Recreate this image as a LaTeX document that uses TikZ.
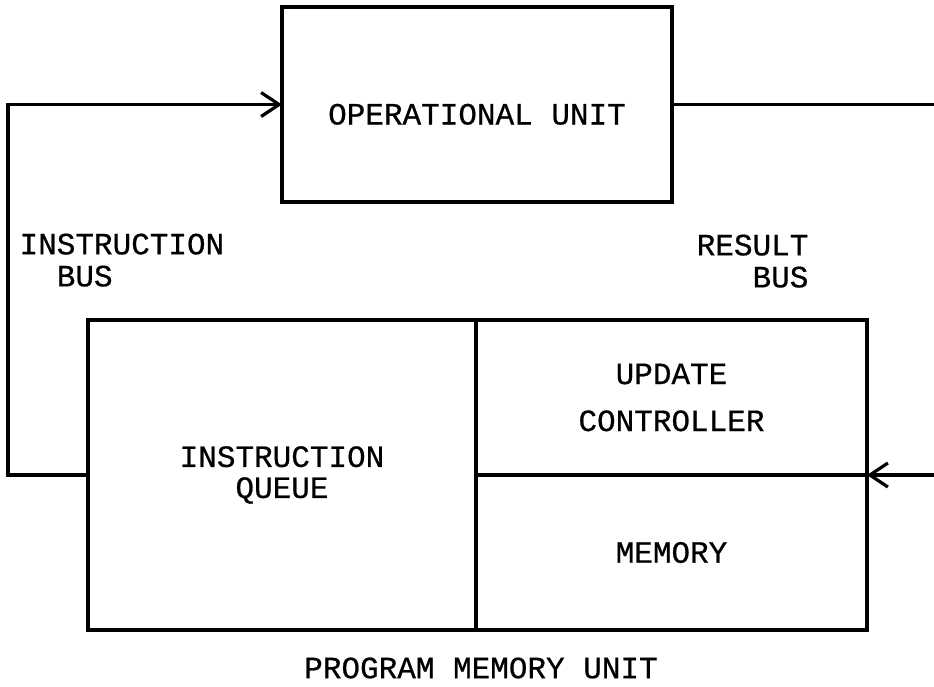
\documentclass[tikz,border=0pt]{standalone}
\usepackage{fontspec}
\setmonofont{Liberation Mono}[FakeBold=0.6]
\usepackage{tikz}
\usetikzlibrary{arrows.meta,positioning}

\begin{document}
\begin{tikzpicture}[x=0.5pt,y=-0.5pt,>={Straight Barb[length=9pt,width=12pt]},
  line width=1.6pt,
  every node/.style={font=\ttfamily\fontsize{15.5}{15.5}\selectfont},
  block/.style={rectangle,draw,outer sep=0pt,align=center},
  bus/.style={line cap=butt}]
  \useasboundingbox (0,0) rectangle (934,687);

  \node[block,minimum width=195pt,minimum height=97.5pt,text height=20pt,text depth=0pt] (opunit) at (477,104.5) {OPERATIONAL UNIT};
  \node[block,minimum width=194pt,minimum height=155pt] (queue) at (282,475) {\raisebox{-3pt}{INSTRUCTION}\\\raisebox{-3pt}{QUEUE}};
  \node[block,minimum width=195.5pt,minimum height=77.5pt,anchor=north west] (update) at (queue.north east)
    {UPDATE\\[8pt]CONTROLLER};
  \node[block,minimum width=195.5pt,minimum height=77.5pt] (memory) [below=0pt of update] {MEMORY};

  % labels
  \node[anchor=north west,inner sep=0pt,align=left] (ibuslabel) at (18,232) {INSTRUCTION\\[0.5pt]\phantom{IN}BUS};
  \node[anchor=north east,inner sep=0pt,align=right] (rbuslabel) at (810,233) {RESULT\\[0.5pt]BUS};
  \node (pmulabel) at (481,668) {PROGRAM MEMORY UNIT};

  % buses
  \coordinate (rtop) at (934,104.5);
  \coordinate (rbot) at (934,475);
  \draw[bus,->] (queue.west) -- ++(-80,0) |- (opunit.west);
  \draw[bus] (opunit.east) -- (rtop);
  \draw[bus,->] (rbot) -- (update.south east);
\end{tikzpicture}
\end{document}
